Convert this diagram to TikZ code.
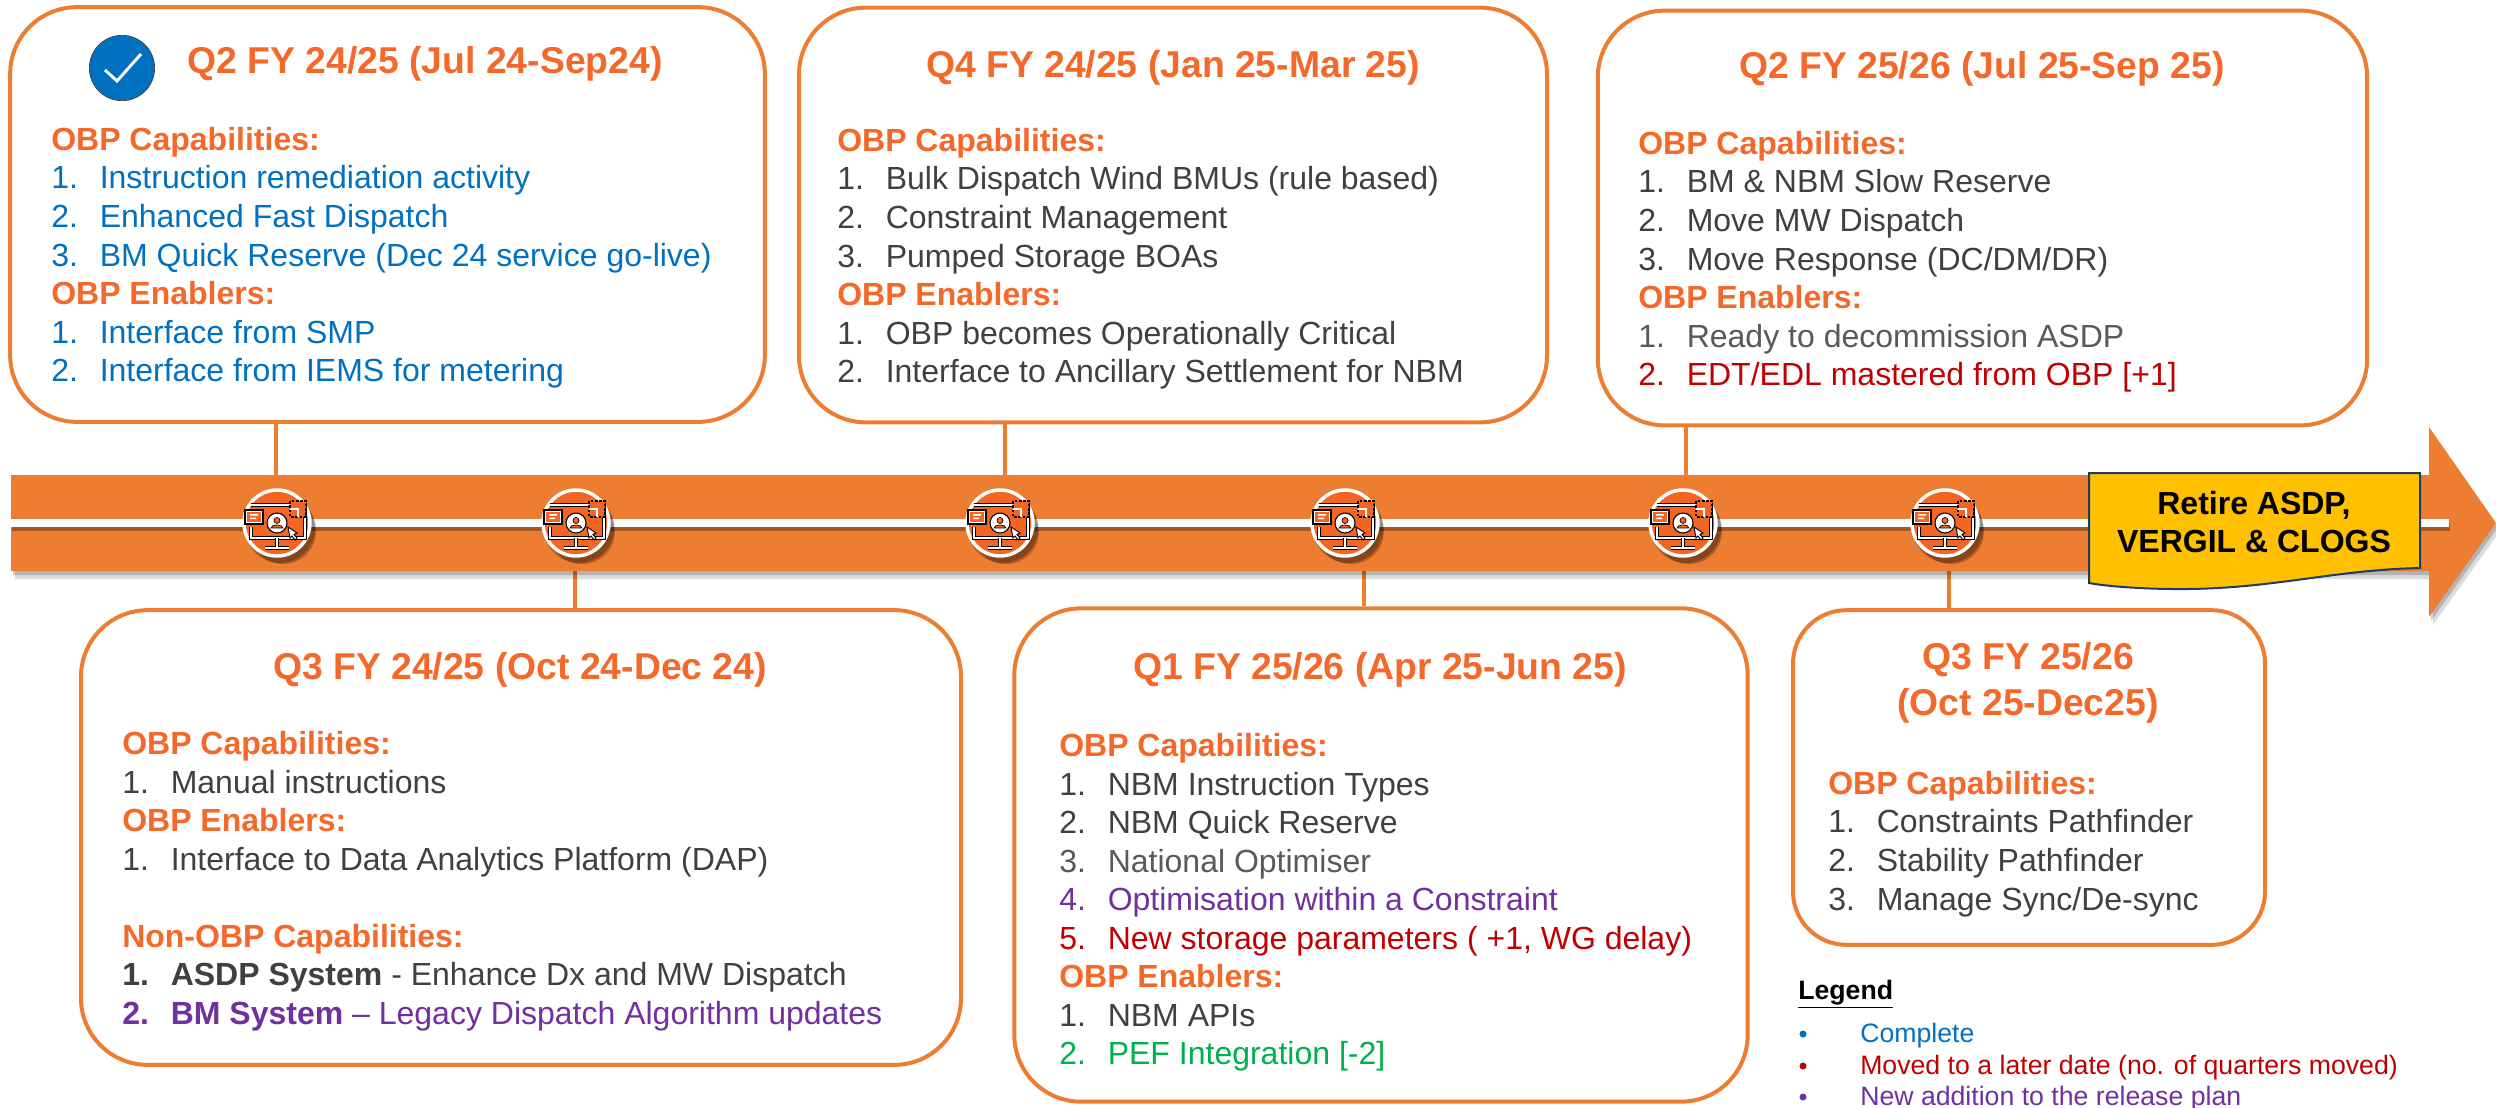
\documentclass[tikz,border=0pt]{standalone}
\usepackage{fontspec}
\setmainfont{Liberation Sans}
\usetikzlibrary{shadows}
\definecolor{barorange}{RGB}{237,125,49}
\definecolor{headorange}{RGB}{244,104,42}
\definecolor{iconorange}{RGB}{243,101,35}
\definecolor{doneblue}{RGB}{0,112,192}
\definecolor{movedred}{RGB}{192,0,0}
\definecolor{newpurple}{RGB}{112,48,160}
\definecolor{pefgreen}{RGB}{0,176,80}
\definecolor{bodygrey}{RGB}{64,64,64}
\definecolor{lightgrey}{RGB}{89,89,89}
\definecolor{retireyellow}{RGB}{255,192,0}
\definecolor{retireblue}{RGB}{31,56,100}
\newcommand{\hd}[1]{\textcolor{headorange}{\textbf{#1}}}
\newcommand{\itm}[3]{\textcolor{#1}{\makebox[36.4pt][l]{#2}#3}}
\newcommand{\bitm}[4]{\textcolor{#1}{\makebox[36.4pt][l]{\textbf{#2}}\textbf{#3}#4}}
\tikzset{
  qbox/.style={draw=barorange,line width=3pt,fill=white,rounded corners=50pt,inner sep=0pt},
  qtitle/.style={text=headorange,font=\fontsize{28}{34}\selectfont\bfseries,align=center,inner sep=0pt},
  qlist/.style={anchor=north west,align=left,inner sep=0pt,font=\fontsize{24}{28.9}\selectfont},
  qstem/.style={draw=barorange,line width=2.6pt},
  softshadow/.style={drop shadow={shadow xshift=1.5pt,shadow yshift=-3pt,opacity=.18,fill=black},
    drop shadow={shadow xshift=3pt,shadow yshift=-6pt,opacity=.14,fill=black}},
  monitoricon/.pic={
    \fill[black,opacity=.25] (3,5) circle (35);
    \fill[black,opacity=.25] (6,8) circle (33);
    \draw[white,line width=2.6pt,fill=iconorange] (0,0) circle (33);
    %screen outline
    \draw[black,line width=3.6pt] (-26,4) -- (-26,15) -- (28,15) -- (28,-18) -- (-26,-18);
    \draw[white,line width=2.2pt] (-26,4) -- (-26,15) -- (28,15) -- (28,-18) -- (-26,-18);
    \draw[black,line width=3.6pt] (0,15) -- (0,24) (-12,25) -- (12,25);
    \draw[white,line width=2.2pt] (0,15) -- (0,24) (-12,25) -- (12,25);
    %dotted corner
    \draw[black,line width=1.5pt,dash pattern=on 2pt off 1.2pt,fill=iconorange] (13,-22) rectangle (29,-6);
    \draw[white,line width=1.6pt] (13,-14) -- (21,-14) -- (21,-6);
    %small window
    \draw[black,line width=.8pt,fill=white] (-32,-13) rectangle (-14,1);
    \fill[iconorange] (-30,-11) rectangle (-16,-1);
    \fill[white] (-27,-9) rectangle (-19,-7.5) (-27,-5.5) rectangle (-21,-4);
    %user badge
    \draw[black,line width=.8pt,fill=white] (0,0) circle (10);
    \draw[black,line width=.5pt,fill=iconorange] (0,-2.5) circle (3);
    \draw[black,line width=.5pt,fill=iconorange] (-6,5) .. controls (-6,1) and (6,1) .. (6,5) -- cycle;
    %cursor
    \draw[black,line width=.7pt,fill=white] (11,4) -- (20,10) -- (17,11.5) -- (20,15) -- (18,17) -- (15,13) -- (13,15) -- cycle;
  }
}
\begin{document}
\begin{tikzpicture}[x=0.75pt,y=0.75pt,yscale=-1,xscale=1]
\useasboundingbox (0,0) rectangle (2496,1107);

%Where the stems meet the bar
\coordinate (stemqa) at (276,475);
\coordinate (stemqb) at (575,571);
\coordinate (stemqc) at (1005,475);
\coordinate (stemqd) at (1364,571);
\coordinate (stemqe) at (1686,475);
\coordinate (stemqf) at (1949,571);

%Rounded boxes
\node[qbox,minimum width=566pt,minimum height=311pt] (boxqa) at (387.5,214.5) {};
\node[qbox,minimum width=561pt,minimum height=311pt] (boxqc) at (1173,215) {};
\node[qbox,minimum width=577pt,minimum height=311pt] (boxqe) at (1982.5,218) {};
\node[qbox,minimum width=660pt,minimum height=341pt] (boxqb) at (521,837.5) {};
\node[qbox,minimum width=550pt,minimum height=370pt] (boxqd) at (1381,855) {};
\node[qbox,rounded corners=40pt,minimum width=354pt,minimum height=251pt] (boxqf) at (2029,777.5) {};

%Stems
\draw[qstem] (boxqa.south -| stemqa) -- (stemqa);
\draw[qstem] (boxqc.south -| stemqc) -- (stemqc);
\draw[qstem] (boxqe.south -| stemqe) -- (stemqe);
\draw[qstem] (boxqb.north -| stemqb) -- (stemqb);
\draw[qstem] (boxqd.north -| stemqd) -- (stemqd);
\draw[qstem] (boxqf.north -| stemqf) -- (stemqf);

%Timeline arrow
\fill[barorange,softshadow] (11,475) -- (2429,475) -- (2429,427) -- (2496,523) -- (2429,617) -- (2429,571) -- (11,571) -- cycle;
\fill[white,drop shadow={shadow xshift=1pt,shadow yshift=-3pt,opacity=.3,fill=black}] (11,519) rectangle (2449,527);

%Monitor badges
\pic[transform shape] at (277,523) {monitoricon};
\pic[transform shape] at (576,523) {monitoricon};
\pic[transform shape] at (1000,523) {monitoricon};
\pic[transform shape] at (1345,523) {monitoricon};
\pic[transform shape] at (1683,523) {monitoricon};
\pic[transform shape] at (1945,523) {monitoricon};

%Retire note
\draw[draw=retireblue,fill=retireyellow,line width=1.5pt] (2089,473) -- (2420,473) -- (2420,568) .. controls (2330,570) and (2270,590) .. (2174,589) .. controls (2150,589) and (2110,587) .. (2089,583) -- cycle;
\node[align=center,inner sep=0pt,font=\fontsize{24}{28.5}\selectfont\bfseries] (retire) at (2254,522) {Retire ASDP,\\VERGIL \& CLOGS};

%Tick badge
\node[circle,draw=bodygrey,line width=.5pt,fill=doneblue,minimum size=49pt,inner sep=0pt] (tick) at (122,68) {};
\draw[white,line width=2.2pt] (105,70) -- (117,81) -- (141,54);

%Titles
\node[qtitle] (titleqa) at (425,64) {Q2 FY 24/25 (Jul 24-Sep24)};
\node[qtitle] (titleqc) at (1173,68) {Q4 FY 24/25 (Jan 25-Mar 25)};
\node[qtitle] (titleqe) at (1982,69) {Q2 FY 25/26 (Jul 25-Sep 25)};
\node[qtitle] (titleqb) at (520,670) {Q3 FY 24/25 (Oct 24-Dec 24)};
\node[qtitle] (titleqd) at (1380,670) {Q1 FY 25/26 (Apr 25-Jun 25)};
\node[qtitle] (titleqf) at (2028,683) {Q3 FY 25/26\\(Oct 25-Dec25)};

%Lists
\node[qlist] (listqa) at (51,127) {\hd{OBP Capabilities:}\\
  \itm{doneblue}{1.}{Instruction remediation activity}\\
  \itm{doneblue}{2.}{Enhanced Fast Dispatch}\\
  \itm{doneblue}{3.}{BM Quick Reserve (Dec 24 service go-live)}\\
  \hd{OBP Enablers:}\\
  \itm{doneblue}{1.}{Interface from SMP}\\
  \itm{doneblue}{2.}{Interface from IEMS for metering}};
\node[qlist] (listqc) at (837,128) {\hd{OBP Capabilities:}\\
  \itm{bodygrey}{1.}{Bulk Dispatch Wind BMUs (rule based)}\\
  \itm{bodygrey}{2.}{Constraint Management}\\
  \itm{bodygrey}{3.}{Pumped Storage BOAs}\\
  \hd{OBP Enablers:}\\
  \itm{bodygrey}{1.}{OBP becomes Operationally Critical}\\
  \itm{bodygrey}{2.}{Interface to Ancillary Settlement for NBM}};
\node[qlist] (listqe) at (1638,131) {\hd{OBP Capabilities:}\\
  \itm{bodygrey}{1.}{BM \& NBM Slow Reserve}\\
  \itm{bodygrey}{2.}{Move MW Dispatch}\\
  \itm{bodygrey}{3.}{Move Response (DC/DM/DR)}\\
  \hd{OBP Enablers:}\\
  \itm{lightgrey}{1.}{Ready to decommission ASDP}\\
  \itm{movedred}{2.}{EDT/EDL mastered from OBP [+1]}};
\node[qlist] (listqb) at (122,731) {\hd{OBP Capabilities:}\\
  \itm{bodygrey}{1.}{Manual instructions}\\
  \hd{OBP Enablers:}\\
  \itm{bodygrey}{1.}{Interface to Data Analytics Platform (DAP)}\\
  \mbox{}\\
  \hd{Non-OBP Capabilities:}\\
  \bitm{bodygrey}{1.}{ASDP System}{ - Enhance Dx and MW Dispatch}\\
  \bitm{newpurple}{2.}{BM System}{ -- Legacy Dispatch Algorithm updates}};
\node[qlist] (listqd) at (1059,733) {\hd{OBP Capabilities:}\\
  \itm{bodygrey}{1.}{NBM Instruction Types}\\
  \itm{bodygrey}{2.}{NBM Quick Reserve}\\
  \itm{lightgrey}{3.}{National Optimiser}\\
  \itm{newpurple}{4.}{Optimisation within a Constraint}\\
  \itm{movedred}{5.}{New storage parameters ( +1, WG delay)}\\
  \hd{OBP Enablers:}\\
  \itm{bodygrey}{1.}{NBM APIs}\\
  \itm{pefgreen}{2.}{PEF Integration [-2]}};
\node[qlist] (listqf) at (1828,771) {\hd{OBP Capabilities:}\\
  \itm{bodygrey}{1.}{Constraints Pathfinder}\\
  \itm{bodygrey}{2.}{Stability Pathfinder}\\
  \itm{bodygrey}{3.}{Manage Sync/De-sync}};

%Legend
\node[anchor=west,inner sep=0pt,font=\fontsize{20}{24}\selectfont\bfseries] (legend) at (1798,994) {\underline{Legend}};
\node[anchor=west,inner sep=0pt,text=doneblue,font=\fontsize{20}{24}\selectfont] (legenddone) at (1860,1036) {Complete};
\node[anchor=west,inner sep=0pt,text=movedred,font=\fontsize{20}{24}\selectfont] (legendmoved) at (1860,1068) {Moved to a later date (no. of quarters moved)};
\node[anchor=west,inner sep=0pt,text=newpurple,font=\fontsize{20}{24}\selectfont] (legendnew) at (1860,1099) {New addition to the release plan};
\fill[doneblue] (1803,1034) circle (3.5);
\fill[movedred] (1803,1066) circle (3.5);
\fill[newpurple] (1803,1097) circle (3.5);
\end{tikzpicture}
\end{document}
